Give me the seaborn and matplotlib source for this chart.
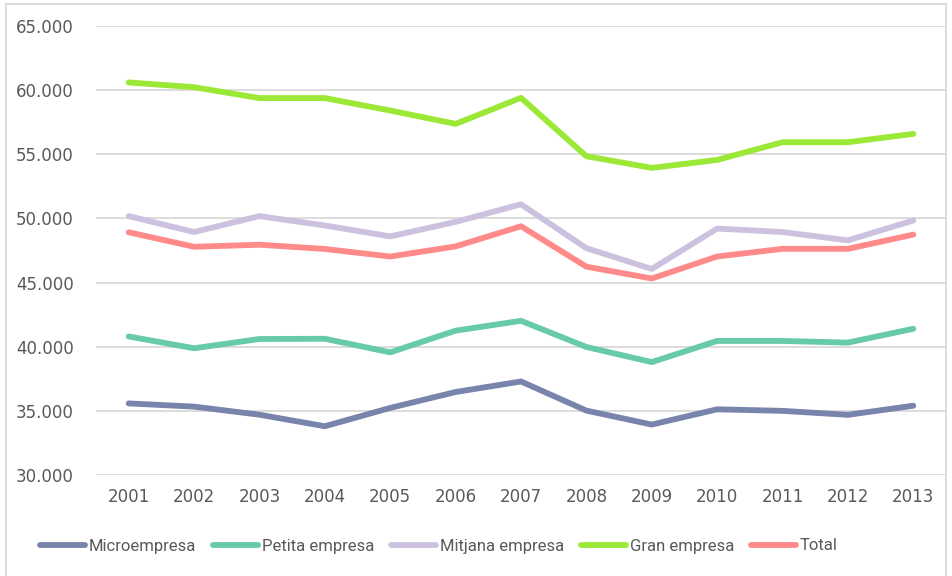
import matplotlib
matplotlib.use("Agg")
import matplotlib.pyplot as plt
import matplotlib.ticker as mticker
from matplotlib.patches import Rectangle
from matplotlib.lines import Line2D
import seaborn as sns
import pandas as pd

years = [2001, 2002, 2003, 2004, 2005, 2006, 2007, 2008, 2009, 2010, 2011, 2012, 2013]
series_names = ["Microempresa", "Petita empresa", "Mitjana empresa", "Gran empresa", "Total"]
micro = [35.58, 35.33, 34.70, 33.80, 35.23, 36.47, 37.29, 35.02, 33.93, 35.12, 35.00, 34.69, 35.40]
petita = [40.80, 39.88, 40.60, 40.62, 39.56, 41.25, 42.02, 39.98, 38.80, 40.45, 40.45, 40.32, 41.40]
mitjana = [50.18, 48.94, 50.18, 49.45, 48.60, 49.73, 51.10, 47.68, 46.06, 49.21, 48.94, 48.29, 49.84]
gran = [60.60, 60.23, 59.38, 59.38, 58.41, 57.37, 59.40, 54.85, 53.94, 54.56, 55.94, 55.94, 56.59]
total = [48.92, 47.79, 47.95, 47.62, 47.03, 47.82, 49.39, 46.24, 45.32, 47.03, 47.63, 47.63, 48.74]
colors = ["#7884AC", "#66CBA6", "#CCC1DE", "#9BE837", "#FF8A8A"]
yticks = [30, 35, 40, 45, 50, 55, 60, 65]

values = [micro, petita, mitjana, gran, total]
rows = []
for name, vals in zip(series_names, values):
    for y, v in zip(years, vals):
        rows.append({"Any": y, "Valor": v, "Serie": name})
df = pd.DataFrame(rows)

sns.set_theme(style="white")
plt.rcParams["font.family"] = ["DejaVu Sans"]

fig = plt.figure(figsize=(9.52, 5.76), dpi=100)
ax = fig.add_axes([96 / 952, 1 - 475 / 576, 850 / 952, 449 / 576])

sns.lineplot(data=df, x="Any", y="Valor", hue="Serie", hue_order=series_names,
             palette=colors, linewidth=4.2, ax=ax, legend=False,
             solid_capstyle="round", solid_joinstyle="round")

ax.set_xlim(2000.5, 2013.5)
ax.set_ylim(30, 65)
ax.set_yticks(yticks)
ax.set_xticks(years)
ax.set_xticklabels([str(y) for y in years])
ax.yaxis.set_major_formatter(mticker.FuncFormatter(lambda v, p: f"{int(v)}.000"))
ax.grid(axis="y", color="#D9D9D9", linewidth=1.3)
ax.set_axisbelow(True)
for s in ax.spines.values():
    s.set_visible(False)
ax.tick_params(axis="both", length=0, labelsize=12, labelcolor="#595959")
ax.tick_params(axis="y", pad=16)
ax.tick_params(axis="x", pad=9)
ax.set_xlabel("")
ax.set_ylabel("")

handles = [Line2D([0], [0], color=c, linewidth=4.2, solid_capstyle="round") for c in colors]
leg = fig.legend(handles, series_names, loc="center", ncol=5,
                 bbox_to_anchor=(0.461, 1 - 546 / 576), frameon=False,
                 prop={"family": "Roboto", "size": 12},
                 handlelength=2.7, handletextpad=0.24,
                 columnspacing=1.0)
for t in leg.get_texts():
    t.set_color("#595959")

fig.patches.append(Rectangle((6 / 952, -0.01), 940 / 952, 1 - 4 / 576 + 0.01,
                             transform=fig.transFigure, fill=False,
                             edgecolor="#D9D9D9", linewidth=1.3))

fig.savefig("out.png", dpi=100)
